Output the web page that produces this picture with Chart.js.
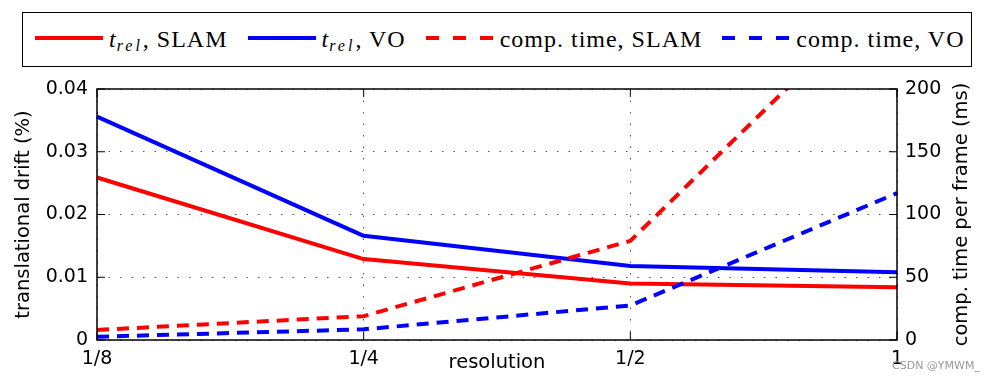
<!DOCTYPE html>
<html>
<head>
<meta charset="utf-8">
<script src="https://cdn.jsdelivr.net/npm/chart.js@4.4.1/dist/chart.umd.min.js"></script>
<style>
  html, body { margin: 0; padding: 0; background: #fff; }
  #wrap { position: relative; width: 985px; height: 381px; }
  #legend {
    position: absolute; left: 22px; top: 12px; width: 950px; height: 55px;
    box-sizing: border-box; border: 1.5px solid #000; background: #fff;
    display: flex; align-items: center; padding-left: 12px;
    font-family: "Liberation Serif", serif; font-size: 24px; letter-spacing: 1px; color: #000;
  }
  .item { display: flex; align-items: center; margin-right: 20px; white-space: nowrap; }
  .swatch { width: 68px; height: 4px; margin-right: 6px; position: relative; top: -1.5px; }
  .sub { font-size: 16px; font-style: italic; letter-spacing: 3px; position: relative; top: 4px; }
  #mark { position: absolute; left: 892px; top: 359px; font: 11px "DejaVu Sans", sans-serif; color: #999; }
</style>
</head>
<body>
<div id="wrap">
  <canvas id="chart" width="985" height="381"></canvas>
  <div id="legend"></div>
  <div id="mark">CSDN @YMWM_</div>
</div>
<script>
// data
const categories = ["1/8", "1/4", "1/2", "1"];
const driftSlam = [0.0259, 0.0129, 0.0090, 0.0084];
const driftVo = [0.0356, 0.0166, 0.0118, 0.0108];
const timeSlam = [8, 19, 79, 286];
const timeVo = [2.6, 8.5, 27.5, 117];
const driftTicks = [0, 0.01, 0.02, 0.03, 0.04];
const timeTicks = [0, 50, 100, 150, 200];

const RED = "#ff0000";
const BLUE = "#0000ff";
const DASH = [12, 8];
const rightTitle = "comp. time per frame (ms)";

Chart.defaults.font.family = "'DejaVu Sans', sans-serif";
Chart.defaults.color = "#000";

// =========================
// HTML LEGEND (subscripts)
// =========================
const htmlLegend = {
    id: "htmlLegend",
    afterUpdate(chart) {
        const box = document.getElementById("legend");
        box.innerHTML = "";
        chart.data.datasets.forEach(ds => {
            const item = document.createElement("div");
            item.className = "item";

            const sw = document.createElement("div");
            sw.className = "swatch";
            if (ds.borderDash && ds.borderDash.length) {
                sw.style.background = `repeating-linear-gradient(to right, ${ds.borderColor} 0 13px, transparent 13px 27px)`;
            } else {
                sw.style.background = ds.borderColor;
            }
            item.appendChild(sw);

            const txt = document.createElement("span");
            const parts = ds.label.split("_rel");
            if (parts.length > 1) {
                const t = document.createElement("i");
                t.textContent = parts[0];
                const sub = document.createElement("span");
                sub.className = "sub";
                sub.textContent = "rel";
                txt.appendChild(t);
                txt.appendChild(sub);
                txt.appendChild(document.createTextNode(parts[1]));
            } else {
                txt.textContent = ds.label;
            }
            item.appendChild(txt);
            box.appendChild(item);
        });
    }
};

// =========================
// AXES BOX, INNER TICKS, RIGHT TITLE
// =========================
const frame = {
    id: "frame",
    afterDraw(chart) {
        const { ctx, chartArea: a, scales } = chart;
        const len = 8;
        ctx.save();
        ctx.strokeStyle = "#000";
        ctx.lineWidth = 1;
        ctx.beginPath();
        scales.x.ticks.forEach((t, i) => {
            const x = scales.x.getPixelForTick(i);
            ctx.moveTo(x, a.bottom); ctx.lineTo(x, a.bottom - len);
            ctx.moveTo(x, a.top); ctx.lineTo(x, a.top + len);
        });
        scales.y.ticks.forEach((t, i) => {
            const y = scales.y.getPixelForTick(i);
            ctx.moveTo(a.left, y); ctx.lineTo(a.left + len, y);
        });
        scales.y1.ticks.forEach((t, i) => {
            const y = scales.y1.getPixelForTick(i);
            ctx.moveTo(a.right, y); ctx.lineTo(a.right - len, y);
        });
        ctx.stroke();

        ctx.lineWidth = 1.5;
        ctx.strokeRect(a.left, a.top, a.right - a.left, a.bottom - a.top);

        // right label reads bottom-to-top like the original
        ctx.translate(962, (a.top + a.bottom) / 2);
        ctx.rotate(-Math.PI / 2);
        ctx.font = "19.5px 'DejaVu Sans', sans-serif";
        ctx.fillStyle = "#000";
        ctx.textAlign = "center";
        ctx.textBaseline = "middle";
        ctx.fillText(rightTitle, 0, 0);
        ctx.restore();
    }
};

const tickFont = { size: 19 };
const titleFont = { size: 19.5 };
const dotted = { display: false, dash: [1.5, 10] };

new Chart(document.getElementById("chart"), {
    type: "line",
    data: {
        labels: categories,
        datasets: [
            { label: "t_rel, SLAM", data: driftSlam, yAxisID: "y", borderColor: RED, order: 2 },
            { label: "t_rel, VO", data: driftVo, yAxisID: "y", borderColor: BLUE, order: 2 },
            { label: "comp. time, SLAM", data: timeSlam, yAxisID: "y1", borderColor: RED, borderDash: DASH, order: 1 },
            { label: "comp. time, VO", data: timeVo, yAxisID: "y1", borderColor: BLUE, borderDash: DASH, order: 1 }
        ]
    },
    options: {
        responsive: false,
        animation: false,
        layout: { padding: { top: 89, left: 0, right: 0, bottom: 0 } },
        elements: {
            line: { borderWidth: 4, tension: 0, fill: false, borderJoinStyle: "round" },
            point: { radius: 0, hoverRadius: 0 }
        },
        plugins: {
            legend: { display: false },
            tooltip: { enabled: false }
        },
        scales: {
            x: {
                type: "category",
                offset: false,
                grid: { color: "#555", lineWidth: 1, drawTicks: false },
                border: dotted,
                ticks: { font: tickFont, padding: 8, maxRotation: 0, autoSkip: false },
                title: { display: true, text: "resolution", font: titleFont, padding: { top: 0, bottom: 6 } },
                afterFit(s) { s.height = 41; }
            },
            y: {
                position: "left",
                min: driftTicks[0],
                max: driftTicks[driftTicks.length - 1],
                afterBuildTicks(s) { s.ticks = driftTicks.map(v => ({ value: v })); },
                grid: { color: "#555", lineWidth: 1, drawTicks: false },
                border: dotted,
                ticks: { font: tickFont, padding: 9, callback: v => String(v) },
                title: { display: true, text: "translational drift (%)", font: titleFont, padding: { top: 12, bottom: 0 } },
                afterFit(s) { s.width = 97; }
            },
            y1: {
                position: "right",
                min: timeTicks[0],
                max: timeTicks[timeTicks.length - 1],
                afterBuildTicks(s) { s.ticks = timeTicks.map(v => ({ value: v })); },
                grid: { drawOnChartArea: false, drawTicks: false },
                border: { display: false },
                ticks: { font: tickFont, padding: 8, callback: v => String(v) },
                afterFit(s) { s.width = 88; }
            }
        }
    },
    plugins: [htmlLegend, frame]
});
</script>
</body>
</html>
